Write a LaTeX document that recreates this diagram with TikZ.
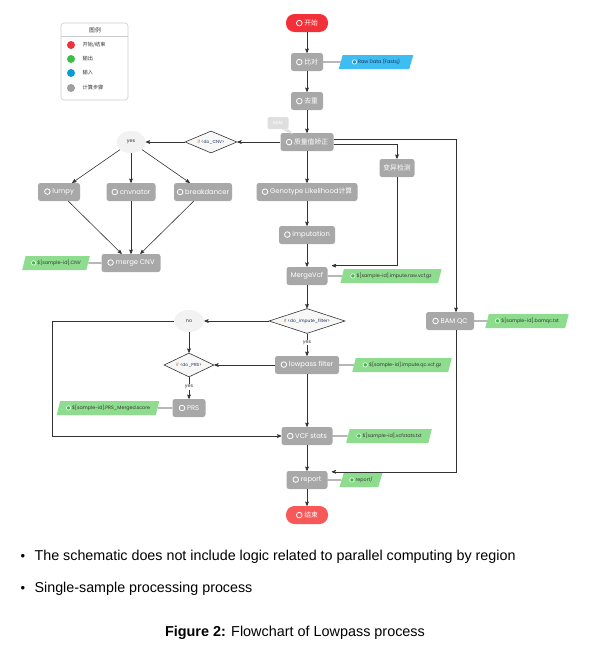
\documentclass[tikz,border=0pt]{standalone}
\usepackage{fontspec}
\setmainfont{Liberation Sans}
\newfontfamily\dgfont{Poppins}
\newfontfamily\cjk{Noto Sans CJK SC}
\usepackage{tikz}
\usetikzlibrary{arrows,shapes.geometric}
\definecolor{stepgray}{HTML}{A8A8A8}
\definecolor{startred}{HTML}{F2303A}
\definecolor{endred}{HTML}{F95858}
\definecolor{outgreen}{HTML}{8EDC8E}
\definecolor{dotgreen}{HTML}{3DBE46}
\definecolor{inblue}{HTML}{3DBDF2}
\definecolor{dotblue}{HTML}{0A9AD8}
\definecolor{linegray}{HTML}{333333}
\definecolor{ifnavy}{HTML}{1E2A5A}
\definecolor{iforange}{HTML}{B8661C}
\newcommand{\stepring}{\tikz[baseline=-2.3pt]\draw[white,line width=0.8pt] (0,0) circle (2.8pt);}
\newcommand{\outring}[1]{\tikz[baseline=-1.7pt]\draw[white,fill=#1,line width=0.6pt] (0,0) circle (2.2pt);}
\tikzstyle{flw_s} = [rectangle, rounded corners=2.5pt, fill=stepgray, text=white, font=\dgfont\fontsize{6.8}{7}\selectfont, minimum height=18pt, inner sep=1pt, align=center]
\tikzstyle{flw_t} = [flw_s, rounded corners=8.5pt, minimum width=42pt]
\tikzstyle{flw_o} = [trapezium, trapezium left angle=62, trapezium right angle=118, trapezium stretches=true, fill=outgreen, text=linegray, font=\dgfont\fontsize{4.8}{5}\selectfont, minimum height=14pt, inner xsep=1pt, inner ysep=0pt]
\tikzstyle{flw_i} = [flw_o, fill=inblue, text=ifnavy]
\tikzstyle{flw_d} = [diamond, aspect=3, draw=linegray, fill=gray!6, line width=0.6pt, font=\dgfont\fontsize{4.4}{5}\selectfont, text=ifnavy, inner sep=0.5pt]
\tikzstyle{flw_e} = [ellipse, fill=gray!10, text=linegray, font=\dgfont\fontsize{4.8}{5}\selectfont, minimum width=29pt, minimum height=22pt]
\tikzstyle{flw_y} = [fill=white, text=linegray, font=\dgfont\fontsize{4.8}{5}\selectfont, inner sep=0.6pt]
\tikzstyle{lnk} = [draw=linegray]
\begin{document}
\begin{tikzpicture}[->,>=stealth',x=1pt,y=-1pt,line width=0.6pt]
\useasboundingbox (0,0) rectangle (594,653);
% legend
\draw[-,gray!40,fill=white,rounded corners=3pt] (61,23) rectangle (128,100);
\draw[-,gray!40] (61,36) -- (128,36);
\node [font=\cjk\fontsize{5.8}{6}\selectfont, text=linegray] (lg_title) at (95,30) {图例};
\fill[startred] (71,45) circle (4);
\fill[dotgreen] (71,59) circle (4);
\fill[dotblue] (71,73) circle (4);
\fill[gray!75] (71,88) circle (4);
\node [anchor=west, font=\cjk\fontsize{5.2}{6}\selectfont, text=linegray] (lg_start) at (79,45) {开始/结束};
\node [anchor=west, font=\cjk\fontsize{5.2}{6}\selectfont, text=linegray] (lg_out) at (79,59) {输出};
\node [anchor=west, font=\cjk\fontsize{5.2}{6}\selectfont, text=linegray] (lg_in) at (79,73) {输入};
\node [anchor=west, font=\cjk\fontsize{5.2}{6}\selectfont, text=linegray] (lg_step) at (79,88) {计算步骤};

% main column
\node [flw_t, fill=startred] (start) at (307,23) {\stepring\ {\cjk 开始}};
\node [flw_s, minimum width=32pt] (align) at (307,62) {\stepring\ {\cjk 比对}};
\node [flw_i, minimum width=75pt] (rawin) at (376,62) {\outring{dotblue}\ Raw Data (Fastq)};
\node [flw_s, minimum width=32pt] (dedup) at (307,101) {\stepring\ {\cjk 去重}};
\node [flw_s, minimum width=53pt] (bqsr) at (307,142) {\stepring\ {\cjk 质量值矫正}};
\node [flw_s, fill=gray!25, minimum width=21pt, minimum height=12pt, rounded corners=2pt, font=\dgfont\fontsize{4.5}{5}\selectfont] (bam) at (278,123) {BAM};
\fill[gray!25] ([xshift=-7pt]bam.south east) -- (bam.south east) -- ([xshift=4pt,yshift=-5pt]bam.south east) -- cycle;

% CNV branch
\node [flw_d, minimum width=52pt, minimum height=22pt] (cnvif) at (211,142) {\textcolor{iforange}{if} <do\_CNV>};
\node [flw_e] (cnvyes) at (131,142) {yes};
\node [flw_s, minimum width=42pt] (lumpy) at (59,192) {\stepring\ lumpy};
\node [flw_s, minimum width=49pt] (cnvnator) at (131,192) {\stepring\ cnvnator};
\node [flw_s, minimum width=58pt] (breakd) at (203,192) {\stepring\ breakdancer};
\node [flw_s, minimum width=59pt] (mergecnv) at (131,263) {\stepring\ merge CNV};
\node [flw_o, minimum width=68pt] (cnvout) at (56,263) {\outring{dotgreen}\ \$[sample-id].CNV};

% imputation branch
\node [flw_s, minimum width=35pt] (varcall) at (397,168) {{\cjk 变异检测}};
\node [flw_s, minimum width=101pt] (gtlh) at (307,192) {\stepring\ Genotype Likelihood{\cjk 计算}};
\node [flw_s, minimum width=56pt] (imput) at (307,235) {\stepring\ imputation};
\node [flw_s, minimum width=41pt] (mergevcf) at (307,276) {MergeVcf};
\node [flw_o, minimum width=102pt] (rawvcf) at (391,276) {\outring{dotgreen}\ \$[sample-id].impute.raw.vcf.gz};
\node [flw_d, minimum width=76pt, minimum height=25pt] (imf) at (307,321) {\textcolor{iforange}{if} <do\_impute\_filter>};
\node [flw_e, minimum width=30pt] (impno) at (189,321) {no};
\node [flw_s, minimum width=64pt] (lowpass) at (307,365) {\stepring\ lowpass filter};
\node [flw_o, minimum width=100pt] (qcvcf) at (402,365) {\outring{dotgreen}\ \$[sample-id].impute.qc.vcf.gz};
\node [flw_d, minimum width=50pt, minimum height=24pt, aspect=2] (prsif) at (189,365) {\textcolor{iforange}{if} <do\_PRS>};
\node [flw_s, minimum width=33pt] (prs) at (189,408) {\stepring\ PRS};
\node [flw_o, minimum width=103pt] (prsout) at (108,408) {\outring{dotgreen}\ \$[sample-id].PRS\_Merged.score};
\node [flw_s, minimum width=51pt] (vcfstats) at (307,436) {\stepring\ VCF stats};
\node [flw_o, minimum width=86pt] (statout) at (389,436) {\outring{dotgreen}\ \$[sample-id].vcfstats.txt};

% QC and report
\node [flw_s, minimum width=48pt] (bamqc) at (450,321) {\stepring\ BAM QC};
\node [flw_o, minimum width=84pt] (bamout) at (527,321) {\outring{dotgreen}\ \$[sample-id].bamqc.txt};
\node [flw_s, minimum width=41pt] (report) at (307,480) {\stepring\ report};
\node [flw_o, minimum width=43pt] (repout) at (361,480) {\outring{dotgreen}\ report/};
\node [flw_t, fill=endred] (end) at (307,515) {\stepring\ {\cjk 结束}};
\coordinate (no_corner) at (52,321);

% connectors
\draw[lnk] (start) -- (align);
\draw[lnk,-] (align) -- (rawin);
\draw[lnk] (align) -- (dedup);
\draw[lnk] (dedup) -- (bqsr);
\draw[lnk] (bqsr) -- (cnvif);
\draw[lnk] (cnvif) -- (cnvyes);
\draw[lnk] (cnvyes) -- (lumpy);
\draw[lnk] (cnvyes) -- (cnvnator);
\draw[lnk] (cnvyes) -- (breakd);
\draw[lnk] (lumpy) -- (mergecnv);
\draw[lnk] (cnvnator) -- (mergecnv);
\draw[lnk] (breakd) -- (mergecnv);
\draw[lnk,-] (mergecnv) -- (cnvout);
\draw[lnk] (bqsr) -- (gtlh);
\draw[lnk] (gtlh) -- (imput);
\draw[lnk] (imput) -- (mergevcf);
\draw[lnk] ([yshift=3pt]bqsr.east) -| ([xshift=6pt]bamqc.north);
\draw[lnk] ([yshift=-2pt]bqsr.east) -| (varcall);
\draw[lnk] (varcall) |- ([xshift=4pt,yshift=1pt]mergevcf.north east);
\draw[lnk,-] (mergevcf) -- (rawvcf);
\draw[lnk] (mergevcf) -- (imf);
\draw[lnk] (imf) -- (impno);
\draw[lnk] (imf) -- node [flw_y, pos=0.4] (imf_yes) {yes} (lowpass);
\draw[lnk,-] (lowpass) -- (qcvcf);
\draw[lnk] (lowpass) -- (prsif);
\draw[lnk] (impno) -- (prsif);
\draw[lnk] (prsif) -- node [flw_y, pos=0.45] (prs_yes) {yes} (prs);
\draw[lnk,-] (prs) -- (prsout);
\draw[lnk] (impno) -- (no_corner) |- (vcfstats);
\draw[lnk] (lowpass) -- (vcfstats);
\draw[lnk,-] (vcfstats) -- (statout);
\draw[lnk,-] (bamqc) -- (bamout);
\draw[lnk] ([xshift=6pt]bamqc.south) |- ([xshift=4pt,yshift=-1pt]report.north east);
\draw[lnk] (vcfstats) -- (report);
\draw[lnk,-] (report) -- (repout);
\draw[lnk] (report) -- (end);

% notes
\node [font=\fontsize{13}{15}\selectfont] (dot1) at (23,557) {•};
\node [anchor=west, font=\fontsize{14.3}{16}\selectfont] (note1) at (31,557) {The schematic does not include logic related to parallel computing by region};
\node [font=\fontsize{13}{15}\selectfont] (dot2) at (23,589) {•};
\node [anchor=west, font=\fontsize{14.3}{16}\selectfont] (note2) at (31,589) {Single-sample processing process};
\node [font=\fontsize{14.4}{16}\selectfont] (caption) at (295,633) {\textbf{Figure 2:} Flowchart of Lowpass process};
\end{tikzpicture}
\end{document}
